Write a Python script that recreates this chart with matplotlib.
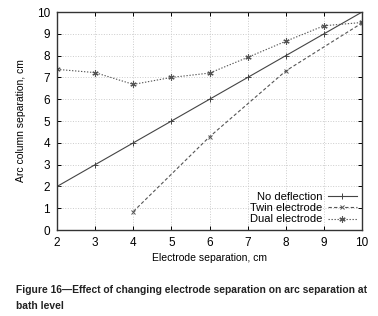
import matplotlib
matplotlib.use("Agg")
import matplotlib.pyplot as plt

# datos
sep = [2, 3, 4, 5, 6, 7, 8, 9, 10]
sin_deflexion = [2, 3, 4, 5, 6, 7, 8, 9, 10]
sep_twin = [4, 6, 8, 10]
twin = [0.85, 4.28, 7.3, 9.5]
dual = [7.37, 7.22, 6.68, 7.0, 7.2, 7.92, 8.66, 9.37, 9.52]

plt.rcParams['font.family'] = ['Liberation Sans', 'DejaVu Sans']

fig = plt.figure(figsize=(3.78, 3.16), dpi=100)
ax = fig.add_axes([0.151, 0.272, 0.807, 0.690])

ax.plot(sep, sin_deflexion, color='#444444', lw=0.8, ls='-', marker='+', ms=4, mew=0.7,
        label='No deflection')
ax.plot(sep_twin, twin, color='#555555', lw=0.8, ls=(0, (3, 2)), marker='x', ms=3.5, mew=0.7,
        label='Twin electrode')
ax.plot(sep, dual, color='#555555', lw=0.8, ls=(0, (1.2, 1.5)), marker=(6, 2, 0), ms=4.5, mew=0.8,
        label='Dual electrode')

ax.set_xlim(2, 10)
ax.set_ylim(0, 10)
ax.set_xticks(range(2, 11))
ax.set_yticks(range(0, 11))
ax.grid(True, color='#cccccc', ls=':', lw=0.7)
ax.tick_params(direction='in', top=True, right=True, labelsize=8.5, length=3, width=0.7, pad=5)
for s in ax.spines.values():
    s.set_linewidth(1.0)
    s.set_color('#333333')

ax.set_xlabel('Electrode separation, cm', fontsize=7.5, labelpad=3)
ax.set_ylabel('Arc column separation, cm', fontsize=7.5, labelpad=8)

leg = ax.legend(loc='lower right', frameon=False, fontsize=8, markerfirst=False,
                handlelength=2.6, handletextpad=0.5, labelspacing=0.12,
                borderaxespad=0.1)
for t in leg.get_texts():
    t.set_ha('right')

fig.text(0.042, 0.056, 'Figure 16\u2014Effect of changing electrode separation on arc separation at\nbath level',
         fontsize=7.4, fontweight='bold', family=['Liberation Sans Narrow', 'Liberation Sans'],
         ha='left', va='center', linespacing=1.75, color='#222222')

fig.savefig('out.png', dpi=100)
